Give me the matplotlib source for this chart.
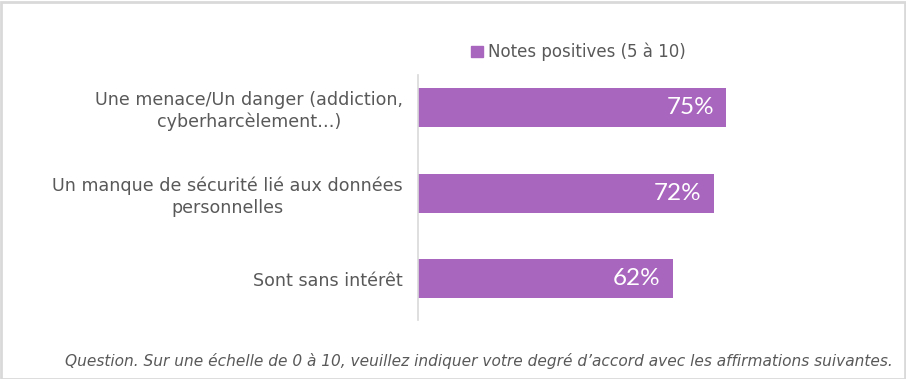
import matplotlib
matplotlib.use("Agg")
import matplotlib.pyplot as plt
from matplotlib.patches import Rectangle
import matplotlib.transforms as mtrans

categories = ["Une menace/Un danger (addiction,\ncyberharcèlement…)",
              "Un manque de sécurité lié aux données\npersonnelles",
              "Sont sans intérêt"]
values = [75, 72, 62]
series_name = "Notes positives (5 à 10)"
footnote = "Question. Sur une échelle de 0 à 10, veuillez indiquer votre degré d’accord avec les affirmations suivantes."

plt.rcParams['font.family'] = ['DejaVu Sans']
BAR = '#A966BE'
GREY = '#595959'

W, H = 906, 379
fig = plt.figure(figsize=(W/100, H/100), dpi=100)
ax = fig.add_axes([418/W, 59/H, 410.7/W, 245/H])

y = list(range(len(categories)))
ax.barh(y, values, height=0.456, color=BAR, label=series_name)
ax.set_xlim(0, 100)
ax.set_ylim(2.485, -0.38)
for s in ['top', 'right', 'bottom']:
    ax.spines[s].set_visible(False)
ax.spines['left'].set_color('#d9d9d9')
ax.spines['left'].set_linewidth(1.2)
ax.set_xticks([])
ax.set_yticks(y)
ax.set_yticklabels(categories, fontsize=12.6, color=GREY, ha='center',
                   multialignment='center', linespacing=1.25)
ax.tick_params(axis='y', length=0, pad=0)
fig.canvas.draw()
renderer = fig.canvas.get_renderer()
for lbl in ax.get_yticklabels():
    bb = lbl.get_window_extent(renderer)
    shift = (403 - bb.x1) / 100
    lbl.set_transform(lbl.get_transform() + mtrans.ScaledTranslation(shift, 0, fig.dpi_scale_trans))

for yi, v in zip(y, values):
    ax.text(v - 2.9, yi, f"{v}%", color='white', fontsize=17.5, ha='right', va='center',
            family=['Lato', 'DejaVu Sans'])

fig.legend(handles=[Rectangle((0, 0), 1, 1, color=BAR)], labels=[series_name],
           loc='center left', bbox_to_anchor=(463/W, 1 - 52/H), frameon=False,
           fontsize=12, handlelength=0.7, handleheight=0.7, handletextpad=0.3,
           borderpad=0, labelcolor=GREY)

fig.text(893/W, 1 - 361/H, footnote, ha='right', va='center', fontsize=11.05,
         style='italic', color=GREY)

fig.patches.append(Rectangle((0.5/W, 0.5/H), 1 - 2/W, 1 - 2/H, transform=fig.transFigure,
                             fill=False, edgecolor='#d9d9d9', linewidth=2))

fig.savefig('out.png', dpi=100)
